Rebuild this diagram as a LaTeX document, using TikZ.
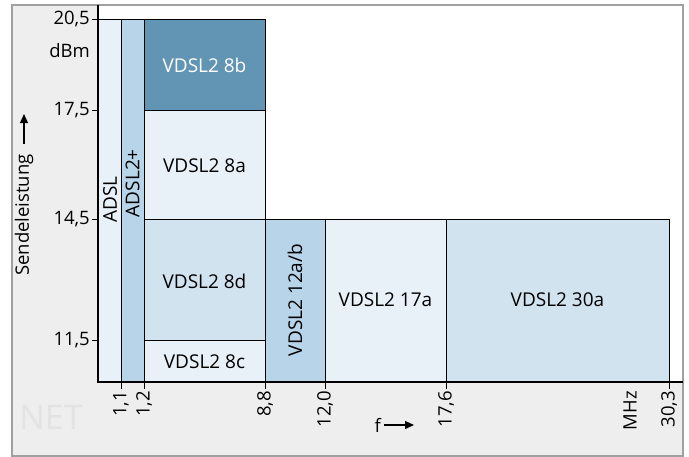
\documentclass[tikz,border=0pt]{standalone}
\usepackage{fontspec}
\setmainfont{Open Sans}
\usetikzlibrary{arrows.meta}

\definecolor{panelgray}{HTML}{EEEEEE}
\definecolor{framegray}{HTML}{A0A0A0}
\definecolor{bandpale}{HTML}{E8F0F8}
\definecolor{bandlight}{HTML}{D2E3F0}
\definecolor{bandmid}{HTML}{B8D4E8}
\definecolor{banddark}{HTML}{6294B4}

\tikzset{
  band/.style={draw=black,line width=1pt},
  ticklabel/.style={font=\fontsize{18.5}{20}\selectfont},
  xticklabel/.style={ticklabel,rotate=90,anchor=east,inner sep=1pt},
  yticklabel/.style={ticklabel,anchor=east,inner sep=2pt},
  titlearrow/.style={-{Triangle[length=9pt,width=8pt]},line width=1.2pt},
}

\begin{document}
\begin{tikzpicture}[x=1pt,y=-1pt,font=\fontsize{19}{22}\selectfont]
        \useasboundingbox(0,0)rectangle(689,456);
        % frame and background
        \fill[panelgray](12,5)rectangle(683,455);
        \fill[white](98,5)rectangle(683,382);
        \draw[framegray,line width=2pt](12,5)rectangle(683,456);
        \node[text=black!11,font=\fontsize{34}{34}\selectfont,inner sep=0pt](net)at(51,417){NET};

        % bands
        \draw[band,fill=bandpale](98,19)rectangle(121,382);
        \draw[band,fill=bandmid](121,19)rectangle(144,382);
        \draw[band,fill=banddark](144,19)rectangle(265,110);
        \draw[band,fill=bandpale](144,110)rectangle(265,219);
        \draw[band,fill=bandlight](144,219)rectangle(265,340);
        \draw[band,fill=bandpale](144,340)rectangle(265,382);
        \draw[band,fill=bandmid](265,219)rectangle(325,382);
        \draw[band,fill=bandpale](325,219)rectangle(446,382);
        \draw[band,fill=bandlight](446,219)rectangle(669,382);

        \node[rotate=90,anchor=east,inner sep=1pt](adsl)at(110,175){ADSL};
        \node[rotate=90,anchor=east,inner sep=1pt](adsltwo)at(132.5,148){ADSL2+};
        \node[text=white](v8b)at(204.5,65){VDSL2 8b};
        \node(v8a)at(204.5,166){VDSL2 8a};
        \node(v8d)at(204.5,281){VDSL2 8d};
        \node(v8c)at(204.5,362){VDSL2 8c};
        \node[rotate=90](v12)at(295,300){VDSL2 12a/b};
        \node(v17)at(385.5,300){VDSL2 17a};
        \node(v30)at(557.5,300){VDSL2 30a};

        % axes
        \draw[line width=1.2pt](98,5)--(98,382)--(683,382);
        \foreach \y/\t in {19/{20,5},110/{17,5},219/{14,5},340/{11,5}}{
          \draw[line width=1pt](92,\y)--(98,\y);
          \node[yticklabel]at(92,\y){\t};
        }
        \node[yticklabel](dbm)at(92,51){dBm};
        \foreach \x/\t in {121/{1,1},144/{1,2},265/{8,8},325/{12,0},446/{17,6},669/{30,3}}{
          \draw[line width=1pt](\x,382)--(\x,389);
          \node[xticklabel]at(\x,390){\t};
        }
        \node[xticklabel](mhz)at(630,390){MHz};

        % axis titles
        \node[ticklabel,rotate=90,anchor=west,inner sep=0pt](power)at(24,276){Sendeleistung};
        \draw[titlearrow](power.east)++(0,-10)--++(0,-30);
        \node[ticklabel,anchor=east,inner sep=0pt](freq)at(381,425){f};
        \draw[titlearrow](freq.east)++(3,0)--++(30,0);
\end{tikzpicture}
\end{document}
